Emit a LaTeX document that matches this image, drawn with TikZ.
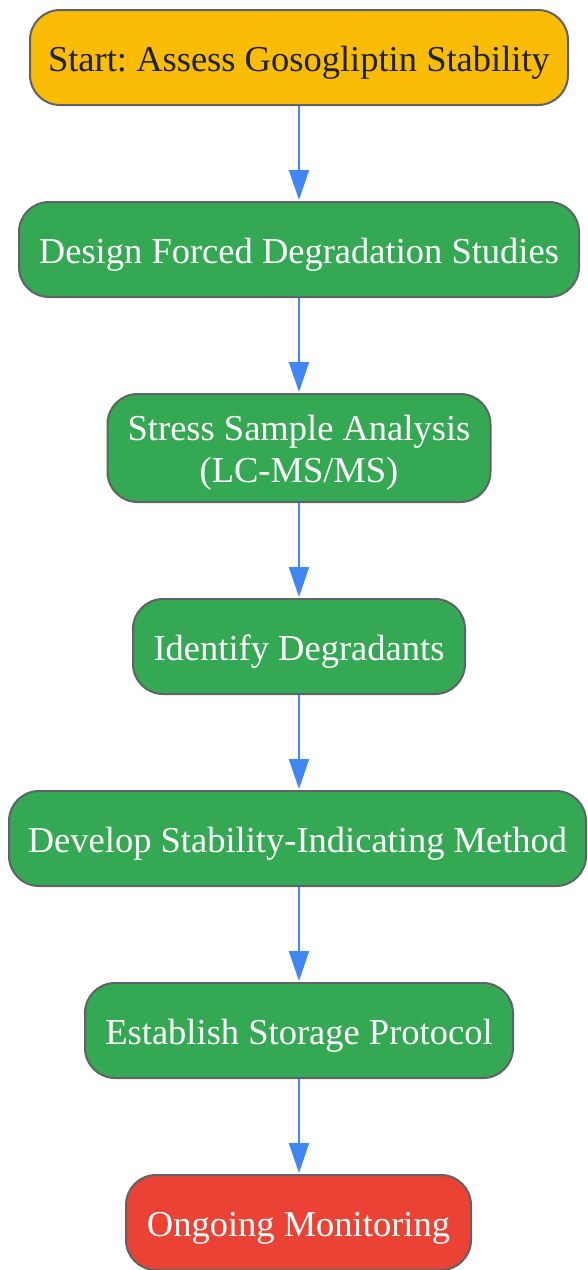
\documentclass[tikz,border=0pt]{standalone}
\usepackage{fontspec}
\setmainfont{Liberation Serif}
\usetikzlibrary{arrows.meta}
\definecolor{cyel}{HTML}{FBBC05}
\definecolor{cgrn}{HTML}{34A853}
\definecolor{cred}{HTML}{EA4335}
\definecolor{cblu}{HTML}{4285F4}
\definecolor{cbrd}{HTML}{5F6368}
\definecolor{ctxt}{HTML}{202124}
\tikzset{
  box/.style={draw=cbrd, line width=2pt, rounded corners=30pt, align=center, inner sep=0pt,
    font=\fontsize{36.5}{42}\selectfont\frenchspacing},
  lower/.style={text height=36pt, text depth=8pt},
  flow/.style={draw=cblu, line width=2pt, -{Triangle[length=30pt,width=20pt]}, shorten >=1pt},
}
\begin{document}
\begin{tikzpicture}[x=1pt,y=-1pt]
\useasboundingbox (0,0) rectangle (587,1270);
\node[box, lower, fill=cyel, text=ctxt, minimum width=538pt, minimum height=95pt] (n1) at (299,57.5) {Start: Assess Gosogliptin Stability};
\node[box, lower, fill=cgrn, text=white, minimum width=560pt, minimum height=95pt] (n2) at (299,249.5) {Design Forced Degradation Studies};
\node[box, fill=cgrn, text=white, minimum width=383pt, minimum height=108pt] (n3) at (299,448) {\rule{0pt}{34pt}Stress Sample Analysis\\(LC-MS/MS)};
\node[box, lower, fill=cgrn, text=white, minimum width=332pt, minimum height=95pt] (n4) at (299,646.5) {Identify Degradants};
\node[box, lower, fill=cgrn, text=white, minimum width=577pt, minimum height=95pt] (n5) at (297.5,838.5) {Develop Stability-Indicating Method};
\node[box, lower, fill=cgrn, text=white, minimum width=428pt, minimum height=95pt] (n6) at (299,1030.5) {Establish Storage Protocol};
\node[box, lower, fill=cred, text=white, minimum width=345pt, minimum height=95pt] (n7) at (298.5,1222.5) {Ongoing Monitoring};
\draw[flow] (n1.south -| 299,0) -- (n2.north -| 299,0);
\draw[flow] (n2.south -| 299,0) -- (n3.north -| 299,0);
\draw[flow] (n3.south -| 299,0) -- (n4.north -| 299,0);
\draw[flow] (n4.south -| 299,0) -- (n5.north -| 299,0);
\draw[flow] (n5.south -| 299,0) -- (n6.north -| 299,0);
\draw[flow] (n6.south -| 299,0) -- (n7.north -| 299,0);
\end{tikzpicture}
\end{document}
